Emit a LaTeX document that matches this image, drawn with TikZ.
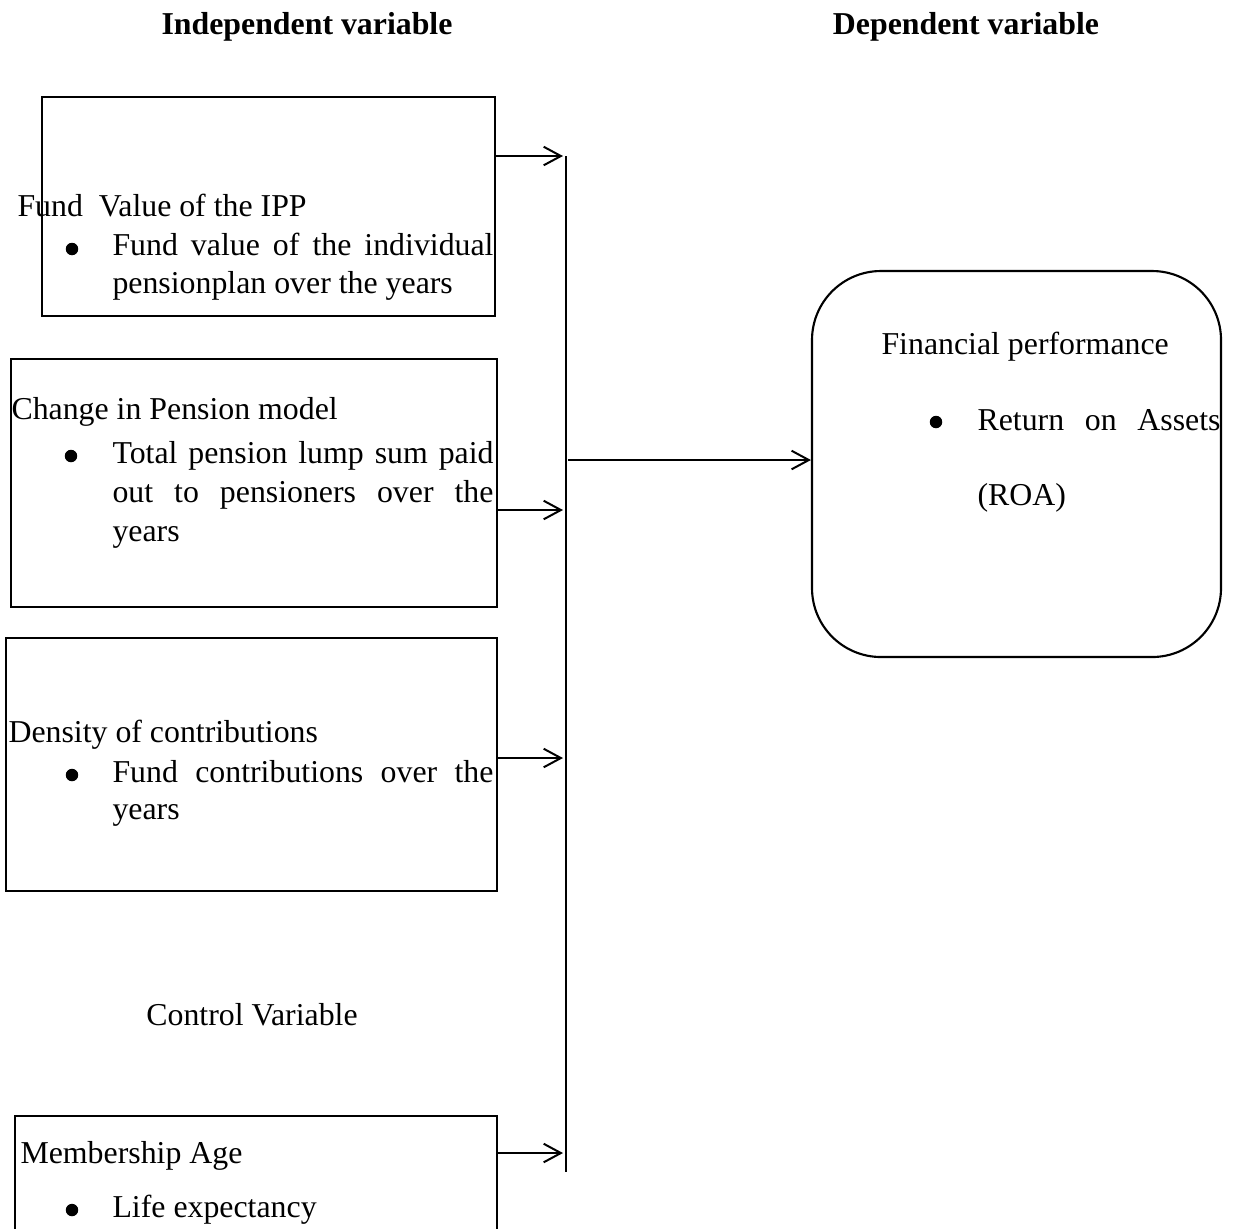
\documentclass[tikz,border=0pt]{standalone}
\usepackage{fontspec}
\setmainfont{Liberation Serif}
\usetikzlibrary{arrows.meta,fit}
\newlength\pxunit
\setlength\pxunit{0.377pt}
% one justified line, stretched to a width given in pixels
\newcommand\jline[2]{\makebox[#1\pxunit][s]{#2}}
\begin{document}
\begin{tikzpicture}[x=0.377pt,y=-0.377pt,
    box/.style={draw,line width=0.8pt,inner sep=0pt},
    txt/.style={anchor=base west,inner sep=0pt,font=\fontsize{12}{14}\selectfont},
    dot/.style={circle,fill,inner sep=0pt,minimum size=4.7pt},
    head/.style={inner sep=0pt,font=\fontsize{12}{14}\selectfont\bfseries},
    feed/.style={-{Straight Barb[length=6.5pt,width=7pt]},line width=0.75pt}]
\useasboundingbox (0,0) rectangle (1233,1228);

% headings
\node[head] (indep) at (307,27) {Independent variable};
\node[head] (dep)   at (966,27) {Dependent variable};

% boxes
\node[box,fit={(42,97) (495,316)}]  (fund)    {};
\node[box,fit={(11,359) (497,607)}] (model)   {};
\node[box,fit={(6,638) (497,891)}]  (density) {};
\node[box,fit={(15,1116) (497,1270)}] (age)   {};
\node[box,rounded corners=26pt,fit={(812,271) (1221,657)}] (perf) {};

% box texts
\node[txt] (fundt)  at (17,216)  {Fund\ \ Value of the IPP};
\node[dot] (fundb)  at (72,249)  {};
\node[txt] (fund1)  at (112,255) {\jline{381}{Fund value of the individual}};
\node[txt] (fund2)  at (112,293) {pensionplan over the years};

\node[txt] (modelt) at (11,419)  {Change in Pension model};
\node[dot] (modelb) at (71,456)  {};
\node[txt] (model1) at (112,463) {\jline{381}{Total pension lump sum paid}};
\node[txt] (model2) at (112,502) {\jline{381}{out to pensioners over the}};
\node[txt] (model3) at (112,541) {years};

\node[txt] (denst)  at (8,742)   {Density of contributions};
\node[dot] (densb)  at (72,775)  {};
\node[txt] (dens1)  at (112,782) {\jline{381}{Fund contributions over the}};
\node[txt] (dens2)  at (112,819) {years};

\node[inner sep=0pt,font=\fontsize{12}{14}\selectfont] (ctrl) at (252,1015) {Control Variable};

\node[txt] (aget)   at (20,1163)  {Membership Age};
\node[dot] (ageb)   at (72,1210)  {};
\node[txt] (age1)   at (112,1217) {Life expectancy};

\node[txt] (perft)  at (881,354) {Financial performance};
\node[dot] (perfb)  at (936,422) {};
\node[txt] (perf1)  at (977,430) {\jline{243}{Return on Assets}};
\node[txt] (perf2)  at (977,505) {(ROA)};

% collecting line
\coordinate (bustop) at (566,156);
\coordinate (busbot) at (566,1172);
\draw[line width=0.4pt] (bustop) -- (busbot);

\coordinate (in1) at (563,156);
\coordinate (in2) at (563,510);
\coordinate (in3) at (563,758);
\coordinate (in4) at (563,1153);
\draw[feed] (fund.east |- in1) -- (in1);
\draw[feed] (model.east |- in2) -- (in2);
\draw[feed] (density.east |- in3) -- (in3);
\draw[feed] (age.east |- in4) -- (in4);

\coordinate (out) at (568,460);
\draw[feed] (out) -- (perf.west |- out);
\end{tikzpicture}
\end{document}
